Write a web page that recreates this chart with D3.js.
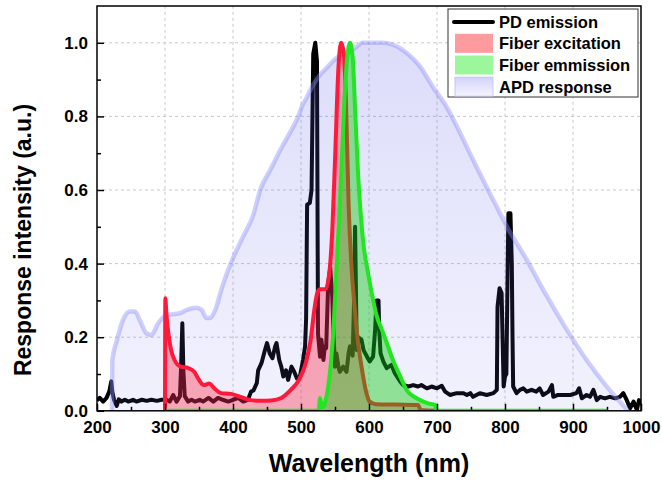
<!DOCTYPE html>
<html>
<head>
<meta charset="utf-8">
<script src="https://cdn.jsdelivr.net/npm/d3@7"></script>
<style>
  html, body { margin: 0; padding: 0; background: #fff; }
  svg { display: block; font-family: "Liberation Sans", Arial, Helvetica, sans-serif; }
</style>
</head>
<body>
<svg id="chart" width="662" height="481"></svg>
<script>
// ---------------- data ----------------
const xTicks = [200, 300, 400, 500, 600, 700, 800, 900, 1000];
const yTicks = [0.0, 0.2, 0.4, 0.6, 0.8, 1.0];
const legendLabels = ["PD emission", "Fiber excitation", "Fiber emmission", "APD response"];

// APD response
const apdWl  = [222, 222.5, 229, 238, 248, 256, 263, 273, 280, 290, 302, 322, 332, 346, 354, 361, 366, 374, 383, 393, 400, 415, 430, 440, 455, 470, 485, 496, 502, 508, 518, 528, 538, 547, 557, 577, 591, 620, 635, 655, 675, 694, 714, 734, 753, 778, 803, 832, 862, 891, 920, 950, 981];
const apdVal = [0, 0.138, 0.19, 0.246, 0.27, 0.27, 0.246, 0.21, 0.206, 0.238, 0.26, 0.265, 0.274, 0.28, 0.274, 0.252, 0.252, 0.274, 0.33, 0.383, 0.415, 0.474, 0.533, 0.6, 0.655, 0.71, 0.76, 0.8, 0.83, 0.85, 0.886, 0.913, 0.932, 0.95, 0.965, 0.982, 1.0, 1.0, 0.995, 0.973, 0.936, 0.88, 0.826, 0.755, 0.682, 0.59, 0.5, 0.41, 0.31, 0.22, 0.138, 0.065, 0];

// PD emission
const pdWl  = [200, 204, 209, 214, 218, 221, 222.5, 225, 229, 232, 236, 241, 246, 253, 258, 266, 273, 280, 288, 295, 302, 307, 312, 317, 322, 323.5, 325.5, 327, 329, 334, 339, 344, 351, 356, 364, 371, 378, 385, 393, 400, 408, 415, 422, 426.5, 430, 435, 437, 442, 447, 450, 454, 458, 462, 464, 468, 471, 474, 478, 481, 486, 490, 494, 498, 503, 506, 507.5, 509, 513, 515.5, 518, 521, 523.5, 525, 528, 530, 533, 535, 537, 540, 543, 546, 548, 550, 552, 555, 557, 562, 567, 570, 572, 576, 578, 579.5, 581, 582, 584, 589, 592, 597, 601, 606, 609, 611, 614, 615, 617, 621, 626, 633, 638, 646, 650, 658, 665, 672, 677, 685, 692, 700, 707, 712, 719, 729, 739, 744, 749, 753, 763, 773, 783, 788, 789, 792, 795, 798, 800, 802, 804, 805, 808, 810, 811, 812, 817, 822, 827, 832, 839, 846, 851, 856, 864, 869, 871, 878, 886, 896, 905, 909, 913, 920, 925, 930, 935, 940, 947, 954, 962, 969, 974, 979, 984, 989, 994, 997, 1000];
const pdVal = [0.029, 0.035, 0.025, 0.035, 0.052, 0.08, 0.052, 0.03, 0.013, 0.031, 0.025, 0.03, 0.025, 0.03, 0.025, 0.03, 0.027, 0.03, 0.027, 0.03, 0.03, 0.025, 0.043, 0.025, 0.04, 0.111, 0.238, 0.11, 0.04, 0.025, 0.03, 0.025, 0.03, 0.025, 0.035, 0.025, 0.035, 0.03, 0.025, 0.03, 0.035, 0.025, 0.03, 0.052, 0.055, 0.075, 0.11, 0.13, 0.165, 0.184, 0.156, 0.143, 0.175, 0.184, 0.138, 0.12, 0.093, 0.11, 0.084, 0.12, 0.106, 0.088, 0.09, 0.138, 0.175, 0.25, 0.56, 0.565, 0.6, 0.97, 1.0, 0.95, 0.21, 0.147, 0.193, 0.138, 0.175, 0.17, 0.347, 0.388, 0.31, 0.2, 0.12, 0.156, 0.12, 0.106, 0.12, 0.106, 0.156, 0.175, 0.15, 0.3, 0.5, 0.3, 0.165, 0.2, 0.193, 0.165, 0.147, 0.134, 0.147, 0.22, 0.3, 0.3, 0.22, 0.156, 0.134, 0.116, 0.125, 0.102, 0.079, 0.07, 0.066, 0.07, 0.066, 0.07, 0.061, 0.066, 0.061, 0.068, 0.052, 0.043, 0.048, 0.048, 0.043, 0.048, 0.038, 0.048, 0.043, 0.048, 0.057, 0.283, 0.333, 0.32, 0.066, 0.093, 0.1, 0.4, 0.537, 0.537, 0.4, 0.21, 0.066, 0.048, 0.057, 0.061, 0.052, 0.057, 0.052, 0.061, 0.043, 0.052, 0.07, 0.038, 0.043, 0.043, 0.043, 0.048, 0.061, 0.034, 0.043, 0.038, 0.057, 0.029, 0.038, 0.034, 0.038, 0.034, 0.038, 0.048, 0.029, 0.007, 0.025, 0.002, 0.029, 0.016];

// Fiber excitation
const excWl  = [300, 300.5, 302, 305, 309, 314, 323, 333, 343, 350, 357, 365, 372, 382, 397, 411, 426, 441, 456, 471, 485, 497, 507, 514, 520, 524, 528, 536, 541, 546, 550, 555, 559, 563, 566, 570, 574, 578, 583, 589, 596, 601, 610, 640, 672, 676, 700];
const excVal = [0, 0.306, 0.265, 0.21, 0.165, 0.138, 0.12, 0.117, 0.106, 0.084, 0.07, 0.074, 0.062, 0.048, 0.046, 0.038, 0.029, 0.027, 0.028, 0.035, 0.057, 0.084, 0.13, 0.19, 0.28, 0.32, 0.33, 0.33, 0.365, 0.49, 0.68, 0.93, 1.0, 0.97, 0.85, 0.56, 0.4, 0.3, 0.2, 0.12, 0.05, 0.025, 0.018, 0.017, 0.016, 0.002, 0];

// Fiber emission
const emWl  = [300, 526, 528, 531, 535, 540, 544, 548, 552, 556, 560, 564, 568, 572, 576, 580, 584, 588, 592, 598, 604, 611, 619, 626, 636, 646, 655, 670, 687, 697, 700, 950];
const emVal = [0, 0, 0.035, 0.008, 0.02, 0.066, 0.13, 0.23, 0.38, 0.52, 0.68, 0.85, 0.96, 1.0, 0.96, 0.8, 0.64, 0.53, 0.45, 0.38, 0.32, 0.26, 0.22, 0.185, 0.134, 0.093, 0.057, 0.034, 0.02, 0.016, 0, 0];

// ---------------- drawing ----------------
const svg = d3.select("#chart");
const X0 = 97, X1 = 641, Y0 = 410.8, Y1 = 6;
const x = d3.scaleLinear().domain([200, 1000]).range([X0, X1]);
const y = d3.scaleLinear().domain([0, 1.1]).range([Y0, Y1]);

const defs = svg.append("defs");
defs.append("clipPath").attr("id", "plotclip")
  .append("rect").attr("x", X0).attr("y", Y1).attr("width", X1 - X0).attr("height", Y0 - Y1);

const grad = defs.append("linearGradient").attr("id", "apdgrad")
  .attr("x1", 0).attr("y1", 0).attr("x2", 0).attr("y2", 1);
grad.append("stop").attr("offset", "0%").attr("stop-color", "rgb(80,80,230)").attr("stop-opacity", 0.2);
grad.append("stop").attr("offset", "100%").attr("stop-color", "rgb(120,120,240)").attr("stop-opacity", 0.1);

const lgrad = defs.append("linearGradient").attr("id", "apdlegend")
  .attr("x1", 0).attr("y1", 0).attr("x2", 0).attr("y2", 1);
lgrad.append("stop").attr("offset", "0%").attr("stop-color", "rgb(210,210,250)");
lgrad.append("stop").attr("offset", "100%").attr("stop-color", "rgb(245,245,255)");

// grid
const grid = svg.append("g");
grid.selectAll("line.gx").data(xTicks.filter(v => v > 200 && v < 1000)).join("line")
  .attr("x1", d => x(d)).attr("x2", d => x(d)).attr("y1", Y0).attr("y2", Y1)
  .attr("stroke", "#c8c8c8").attr("stroke-width", 1).attr("stroke-dasharray", "3,3");
grid.selectAll("line.gy").data(yTicks.filter(v => v > 0)).join("line")
  .attr("y1", d => y(d)).attr("y2", d => y(d)).attr("x1", X0).attr("x2", X1)
  .attr("stroke", "#c8c8c8").attr("stroke-width", 1).attr("stroke-dasharray", "3,3");

const plot = svg.append("g").attr("clip-path", "url(#plotclip)");

const zip = (a, b) => a.map((v, i) => [v, b[i]]);
const pd = zip(pdWl, pdVal), apd = zip(apdWl, apdVal), exc = zip(excWl, excVal), em = zip(emWl, emVal);

const lineLin = d3.line().x(d => x(d[0])).y(d => y(d[1]));
const lineSm = d3.line().x(d => x(d[0])).y(d => y(d[1])).curve(d3.curveMonotoneX);
const areaSm = d3.area().x(d => x(d[0])).y0(y(0)).y1(d => y(d[1])).curve(d3.curveMonotoneX);

// PD emission (under everything)
plot.append("path").datum(pd).attr("d", lineLin)
  .attr("fill", "none").attr("stroke", "#000").attr("stroke-width", 4).attr("stroke-linejoin", "round");

// APD response
plot.append("path").datum(apd).attr("d", areaSm).attr("fill", "url(#apdgrad)");
plot.append("path").datum(apd).attr("d", lineSm)
  .attr("fill", "none").attr("stroke", "rgba(140,140,250,0.42)").attr("stroke-width", 4.5);

// Fiber excitation
plot.append("path").datum(exc).attr("d", areaSm).attr("fill", "rgba(255,30,60,0.36)");
plot.append("path").datum(exc).attr("d", lineSm)
  .attr("fill", "none").attr("stroke", "#ff1a3c").attr("stroke-width", 4).attr("stroke-linejoin", "round");

// Fiber emission
plot.append("path").datum(em).attr("d", areaSm).attr("fill", "rgba(0,200,0,0.4)");
plot.append("path").datum(em).attr("d", lineSm)
  .attr("fill", "none").attr("stroke", "#22e622").attr("stroke-width", 4).attr("stroke-linejoin", "round");

// frame
svg.append("rect").attr("x", X0).attr("y", Y1).attr("width", X1 - X0).attr("height", Y0 - Y1)
  .attr("fill", "none").attr("stroke", "#000").attr("stroke-width", 1.5);

// axes
const xAxis = d3.axisBottom(x).tickValues(xTicks).tickFormat(d3.format("d")).tickSizeInner(-7).tickSizeOuter(0).tickPadding(10);
const gx = svg.append("g").attr("transform", `translate(0,${Y0})`).call(xAxis);
gx.select(".domain").remove();
gx.selectAll("text").attr("font-size", 17).attr("font-weight", "bold").attr("fill", "#000");
gx.selectAll("line").attr("stroke-width", 1.5);
const xMinor = d3.axisBottom(x).tickValues(d3.range(250, 1000, 100)).tickSizeInner(-4).tickSizeOuter(0).tickFormat("");
const gxm = svg.append("g").attr("transform", `translate(0,${Y0})`).call(xMinor);
gxm.select(".domain").remove();
gxm.selectAll("line").attr("stroke-width", 1.5);

const yAxis = d3.axisLeft(y).tickValues(yTicks).tickFormat(d3.format(".1f")).tickSizeInner(-7).tickSizeOuter(0).tickPadding(9);
const gy = svg.append("g").attr("transform", `translate(${X0},0)`).call(yAxis);
gy.select(".domain").remove();
gy.selectAll("text").attr("font-size", 17).attr("font-weight", "bold").attr("fill", "#000");
gy.selectAll("line").attr("stroke-width", 1.5);
const yMinor = d3.axisLeft(y).tickValues([0.1, 0.3, 0.5, 0.7, 0.9]).tickSizeInner(-4).tickSizeOuter(0).tickFormat("");
const gym = svg.append("g").attr("transform", `translate(${X0},0)`).call(yMinor);
gym.select(".domain").remove();
gym.selectAll("line").attr("stroke-width", 1.5);

// axis titles
svg.append("text").attr("x", (X0 + X1) / 2).attr("y", 472).attr("text-anchor", "middle")
  .attr("font-size", 25).attr("font-weight", "bold").text("Wavelength (nm)");
svg.append("text").attr("transform", `translate(31,240) rotate(-90)`).attr("text-anchor", "middle")
  .attr("font-size", 23).attr("font-weight", "bold").text("Response intensity (a.u.)");

// legend
const lg = svg.append("g");
lg.append("rect").attr("x", 448).attr("y", 9).attr("width", 190).attr("height", 88)
  .attr("fill", "#fff").attr("stroke", "#333").attr("stroke-width", 1);
const rowY = [22, 43.3, 65, 86.7];
lg.append("line").attr("x1", 454).attr("x2", 493).attr("y1", rowY[0]).attr("y2", rowY[0])
  .attr("stroke", "#000").attr("stroke-width", 4).attr("stroke-linecap", "round");
lg.append("rect").attr("x", 455).attr("y", rowY[1] - 9.5).attr("width", 38).attr("height", 19).attr("fill", "#ff9a9e");
lg.append("rect").attr("x", 455).attr("y", rowY[2] - 9.5).attr("width", 38).attr("height", 19).attr("fill", "#9cf79c");
lg.append("rect").attr("x", 455).attr("y", rowY[3] - 9.5).attr("width", 38).attr("height", 19)
  .attr("fill", "url(#apdlegend)").attr("stroke", "rgba(180,180,245,0.7)").attr("stroke-width", 1);
lg.selectAll("text.leg").data(legendLabels).join("text")
  .attr("x", 499).attr("y", (d, i) => rowY[i]).attr("dy", "0.36em")
  .attr("font-size", 16.5).attr("font-weight", "bold").text(d => d);
</script>
</body>
</html>
